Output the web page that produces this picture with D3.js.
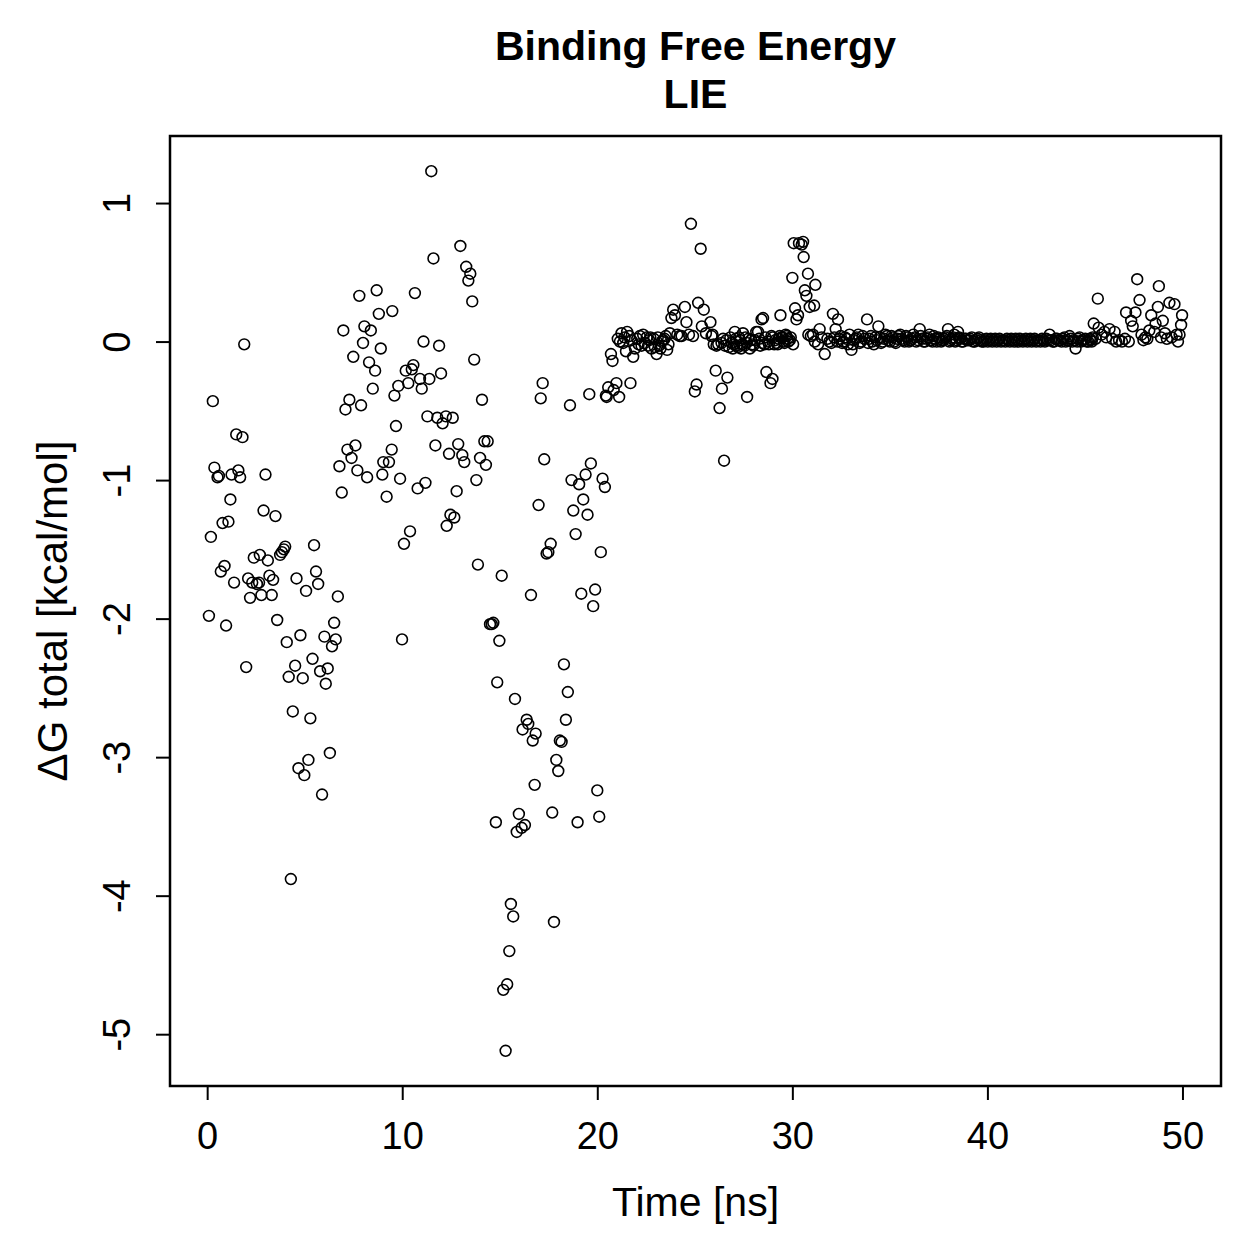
<!DOCTYPE html>
<html>
<head>
<meta charset="utf-8">
<script src="https://cdnjs.cloudflare.com/ajax/libs/d3/7.8.5/d3.min.js"></script>
<style>
  body { margin: 0; background: #fff; }
  svg text { font-family: "Liberation Sans", Arial, sans-serif; fill: #000; }
</style>
</head>
<body>
<div id="vis"></div>
<script>
// values: [time in ns, dG in kcal/mol]
// 0 - 21 ns, widely scattered
var earlyPoints = [
  [0.09,-1.98],[0.19,-1.41],[0.29,-0.43],[0.37,-0.91],[0.53,-0.98],[0.60,-0.97],[0.70,-1.66],[0.79,-1.31],
  [0.89,-1.62],[0.97,-2.05],[1.09,-1.30],[1.19,-1.14],[1.25,-0.96],[1.38,-1.74],[1.49,-0.67],[1.60,-0.93],
  [1.69,-0.98],[1.81,-0.69],[1.90,-0.02],[2.00,-2.35],[2.10,-1.71],[2.20,-1.85],[2.31,-1.74],[2.39,-1.56],
  [2.55,-1.75],[2.66,-1.74],[2.70,-1.54],[2.78,-1.83],[2.89,-1.22],[2.99,-0.96],[3.11,-1.58],[3.19,-1.69],
  [3.31,-1.83],[3.38,-1.72],[3.50,-1.26],[3.59,-2.01],[3.74,-1.54],[3.83,-1.52],[3.93,-1.50],[4.00,-1.48],
  [4.08,-2.17],[4.18,-2.42],[4.29,-3.88],[4.39,-2.67],[4.51,-2.34],[4.58,-1.71],[4.68,-3.08],[4.78,-2.12],
  [4.90,-2.43],[4.98,-3.13],[5.07,-1.80],[5.19,-3.02],[5.29,-2.72],[5.40,-2.29],[5.48,-1.47],[5.58,-1.66],
  [5.69,-1.75],[5.79,-2.38],[5.89,-3.27],[6.01,-2.13],[6.08,-2.47],[6.18,-2.36],[6.29,-2.97],[6.40,-2.20],
  [6.51,-2.03],[6.59,-2.15],[6.70,-1.84],[6.78,-0.90],[6.90,-1.09],[6.98,0.08],[7.09,-0.49],[7.19,-0.78],
  [7.29,-0.42],[7.40,-0.84],[7.49,-0.11],[7.60,-0.75],[7.70,-0.93],[7.80,0.33],[7.89,-0.46],[7.99,-0.01],
  [8.06,0.11],[8.20,-0.98],[8.30,-0.15],[8.39,0.08],[8.49,-0.34],[8.61,-0.21],[8.69,0.37],[8.80,0.20],
  [8.90,-0.05],[8.98,-0.96],[9.03,-0.87],[9.20,-1.12],[9.32,-0.87],[9.46,-0.78],[9.49,0.22],[9.60,-0.39],
  [9.68,-0.61],[9.80,-0.32],[9.89,-0.99],[9.99,-2.15],[10.09,-1.46],[10.18,-0.21],[10.31,-0.30],[10.40,-1.37],
  [10.49,-0.20],[10.57,-0.17],[10.65,0.35],[10.79,-1.06],[10.91,-0.27],[11.00,-0.34],[11.09,0.00],[11.19,-1.02],
  [11.29,-0.54],[11.39,-0.27],[11.49,1.23],[11.60,0.60],[11.70,-0.75],[11.80,-0.55],[11.89,-0.03],[11.99,-0.23],
  [12.07,-0.59],[12.24,-0.54],[12.28,-1.33],[12.40,-0.81],[12.47,-1.25],[12.59,-0.55],[12.67,-1.27],[12.79,-1.08],
  [12.87,-0.74],[12.98,0.69],[13.08,-0.82],[13.18,-0.87],[13.28,0.54],[13.39,0.44],[13.49,0.49],[13.59,0.29],
  [13.69,-0.13],[13.80,-1.00],[13.88,-1.61],[13.99,-0.84],[14.09,-0.42],[14.21,-0.72],[14.29,-0.89],[14.38,-0.72],
  [14.50,-2.04],[14.59,-2.04],[14.67,-2.03],[14.80,-3.47],[14.87,-2.46],[14.98,-2.16],[15.10,-1.69],[15.18,-4.68],
  [15.30,-5.12],[15.38,-4.64],[15.49,-4.40],[15.57,-4.06],[15.69,-4.15],[15.78,-2.58],[15.87,-3.54],[15.98,-3.41],
  [16.12,-3.51],[16.17,-2.80],[16.29,-3.49],[16.38,-2.73],[16.46,-2.76],[16.60,-1.83],[16.69,-2.88],[16.79,-3.20],
  [16.84,-2.83],[16.99,-1.18],[17.10,-0.41],[17.20,-0.30],[17.28,-0.85],[17.40,-1.53],[17.49,-1.52],[17.61,-1.46],
  [17.69,-3.40],[17.78,-4.19],[17.90,-3.02],[18.00,-3.10],[18.08,-2.88],[18.17,-2.89],[18.29,-2.33],[18.39,-2.73],
  [18.49,-2.53],[18.60,-0.46],[18.68,-1.00],[18.77,-1.22],[18.89,-1.39],[18.99,-3.47],[19.07,-1.03],[19.18,-1.82],
  [19.28,-1.14],[19.40,-0.96],[19.50,-1.25],[19.59,-0.38],[19.67,-0.88],[19.79,-1.91],[19.89,-1.79],[20.00,-3.24],
  [20.10,-3.43],[20.18,-1.52],[20.27,-0.99],[20.39,-1.05],[20.44,-0.39],[20.48,-0.40],[20.56,-0.33],[20.84,-0.35],
  [20.98,-0.30],[21.12,-0.40],[21.70,-0.30]
];

// 20.5 - 31.8 ns, settling band with the two bumps
var midPoints = [
  [20.70,-0.09],[20.78,-0.14],[21.05,0.02],[21.16,0.00],[21.24,0.06],[21.33,-0.01],[21.40,0.03],[21.47,-0.07],
  [21.53,0.07],[21.64,0.04],[21.75,0.01],[21.84,-0.11],[21.93,-0.05],[22.05,0.02],[22.12,-0.02],[22.18,0.04],
  [22.27,-0.03],[22.35,0.05],[22.44,-0.01],[22.53,0.03],[22.60,-0.03],[22.66,0.01],[22.72,0.03],[22.78,-0.05],
  [22.90,0.02],[22.95,-0.04],[23.04,-0.09],[23.10,0.03],[23.17,-0.03],[23.24,-0.05],[23.30,0.00],[23.38,0.01],
  [23.45,0.02],[23.51,0.04],[23.58,-0.06],[23.65,-0.02],[23.72,0.06],[23.80,0.17],[23.89,0.23],[23.98,0.19],
  [24.10,0.05],[24.23,0.04],[24.32,0.04],[24.49,0.25],[24.57,0.14],[24.70,0.05],[24.80,0.85],[24.91,0.04],
  [25.00,-0.36],[25.09,-0.31],[25.17,0.28],[25.30,0.67],[25.36,0.11],[25.46,0.23],[25.57,0.06],[25.80,0.14],
  [25.86,0.04],[25.91,0.05],[25.97,-0.02],[26.07,-0.21],[26.11,-0.03],[26.20,-0.02],[26.27,-0.48],[26.37,-0.01],
  [26.39,-0.34],[26.45,0.02],[26.50,-0.86],[26.55,-0.03],[26.62,0.01],[26.67,-0.26],[26.75,-0.04],[26.82,0.03],
  [26.88,-0.01],[26.95,-0.05],[27.00,-0.02],[27.05,0.07],[27.10,0.02],[27.15,-0.03],[27.20,-0.04],[27.27,0.03],
  [27.32,0.01],[27.37,-0.05],[27.42,-0.02],[27.47,0.06],[27.55,-0.03],[27.60,0.03],[27.65,-0.01],[27.68,-0.40],
  [27.75,0.02],[27.82,-0.05],[27.88,0.01],[27.95,-0.02],[28.00,-0.03],[28.07,0.01],[28.15,0.07],[28.24,0.07],
  [28.30,0.02],[28.35,-0.03],[28.42,0.16],[28.45,-0.01],[28.50,0.17],[28.58,-0.02],[28.62,0.03],[28.67,-0.22],
  [28.75,0.00],[28.80,-0.02],[28.88,-0.30],[28.93,0.04],[28.98,-0.27],[29.00,0.03],[29.07,-0.02],[29.13,0.01],
  [29.19,-0.01],[29.25,-0.02],[29.30,0.02],[29.35,0.04],[29.39,0.19],[29.44,0.03],[29.50,0.03],[29.55,0.00],
  [29.60,-0.01],[29.66,0.05],[29.70,0.04],[29.75,0.02],[29.80,0.00],[29.87,0.01],[29.92,0.03],[30.00,0.46],
  [30.04,-0.02],[30.07,0.71],[30.14,0.24],[30.21,0.16],[30.29,0.19],[30.34,0.71],[30.48,0.70],[30.55,0.72],
  [30.58,0.61],[30.64,0.37],[30.72,0.33],[30.80,0.49],[30.82,0.05],[30.89,0.25],[30.95,0.04],[31.06,0.05],
  [31.12,0.26],[31.15,0.00],[31.18,0.41],[31.32,-0.02],[31.40,0.09],[31.50,0.03],[31.66,-0.09]
];

// 31.8 - 50 ns, flat band and the late wobble
var latePoints = [
  [31.80,0.02],[31.90,0.00],[32.00,-0.01],[32.08,0.20],[32.15,0.03],[32.22,0.09],[32.30,0.00],[32.34,0.16],
  [32.40,0.02],[32.48,0.04],[32.55,-0.01],[32.62,0.00],[32.70,0.03],[32.78,0.02],[32.85,-0.02],[32.93,0.05],
  [33.03,-0.06],[33.10,-0.02],[33.15,0.01],[33.23,0.02],[33.30,0.03],[33.38,0.05],[33.45,-0.01],[33.52,0.00],
  [33.60,0.04],[33.70,0.02],[33.83,0.16],[33.88,-0.01],[33.95,0.02],[34.03,0.04],[34.10,0.00],[34.18,-0.02],
  [34.25,0.03],[34.33,0.01],[34.41,0.11],[34.48,0.03],[34.55,-0.01],[34.63,0.00],[34.70,0.02],[34.78,0.05],
  [34.85,0.04],[34.93,0.01],[35.00,0.00],[35.08,0.04],[35.15,0.03],[35.23,0.00],[35.30,-0.01],[35.38,0.02],
  [35.45,0.04],[35.53,0.05],[35.60,0.02],[35.68,0.01],[35.75,0.00],[35.83,0.04],[35.90,0.03],[35.98,0.00],
  [36.05,0.01],[36.13,0.02],[36.20,0.05],[36.28,0.03],[36.35,0.00],[36.43,0.01],[36.53,0.09],[36.58,0.04],
  [36.65,0.02],[36.73,0.00],[36.80,0.00],[36.88,0.02],[36.95,0.03],[37.03,0.05],[37.10,0.01],[37.18,0.00],
  [37.25,0.04],[37.33,0.02],[37.40,0.00],[37.48,0.03],[37.55,0.02],[37.63,0.00],[37.70,0.01],[37.78,0.02],
  [37.85,0.03],[37.92,0.04],[37.98,0.09],[38.05,0.00],[38.10,0.01],[38.18,0.02],[38.25,0.03],[38.30,0.05],
  [38.35,0.00],[38.42,0.01],[38.49,0.07],[38.55,0.03],[38.60,0.02],[38.68,0.00],[38.75,0.00],[38.82,0.02],
  [38.90,0.02],[38.97,0.01],[39.05,0.01],[39.12,0.02],[39.20,0.03],[39.27,0.00],[39.35,0.00],[39.42,0.01],
  [39.50,0.02],[39.57,0.03],[39.65,0.01],[39.72,0.00],[39.80,0.00],[39.87,0.01],[39.95,0.02],[40.02,0.00],
  [40.10,0.01],[40.17,0.02],[40.25,0.00],[40.32,0.01],[40.40,0.02],[40.47,0.00],[40.55,0.01],[40.62,0.02],
  [40.70,0.00],[40.77,0.01],[40.85,0.01],[40.92,0.00],[41.00,0.02],[41.07,0.01],[41.15,0.00],[41.22,0.02],
  [41.30,0.01],[41.37,0.00],[41.45,0.02],[41.52,0.01],[41.60,0.00],[41.67,0.02],[41.75,0.01],[41.82,0.00],
  [41.90,0.01],[41.97,0.02],[42.05,0.00],[42.12,0.01],[42.20,0.02],[42.27,0.00],[42.35,0.01],[42.42,0.02],
  [42.50,0.00],[42.57,0.01],[42.65,0.01],[42.72,0.00],[42.80,0.02],[42.87,0.01],[42.95,0.00],[43.02,0.02],
  [43.10,0.01],[43.19,0.05],[43.27,0.01],[43.35,0.00],[43.42,0.00],[43.50,0.02],[43.57,0.02],[43.65,0.01],
  [43.72,0.01],[43.80,0.00],[43.87,0.02],[43.95,0.03],[44.02,0.00],[44.10,0.01],[44.21,0.04],[44.28,0.02],
  [44.35,0.00],[44.43,0.01],[44.52,-0.05],[44.60,0.00],[44.65,0.02],[44.72,0.03],[44.80,0.00],[44.87,0.01],
  [44.95,0.01],[45.02,0.02],[45.10,0.00],[45.17,0.00],[45.25,0.02],[45.30,0.01],[45.35,0.00],[45.40,0.03],
  [45.45,0.13],[45.55,0.02],[45.66,0.31],[45.70,0.10],[45.85,0.05],[46.00,0.07],[46.09,0.03],[46.26,0.09],
  [46.40,0.02],[46.52,0.07],[46.60,0.00],[46.75,0.01],[46.90,0.00],[47.05,0.02],[47.11,0.21],[47.25,0.00],
  [47.37,0.15],[47.45,0.11],[47.59,0.21],[47.68,0.45],[47.80,0.30],[47.90,0.05],[48.00,0.01],[48.10,0.03],
  [48.20,0.02],[48.30,0.08],[48.40,0.19],[48.56,0.07],[48.62,0.13],[48.74,0.25],[48.79,0.40],[48.90,0.03],
  [48.99,0.15],[49.10,0.06],[49.20,0.02],[49.33,0.28],[49.45,0.03],[49.59,0.27],[49.70,0.05],[49.77,0.00],
  [49.85,0.05],[49.93,0.12],[49.98,0.19]
];

var xTicks = [0, 10, 20, 30, 40, 50];
var yTicks = [1, 0, -1, -2, -3, -4, -5];
var titleLines = ["Binding Free Energy", "LIE"];
var xLabel = "Time [ns]";
var yLabel = "\u0394G total [kcal/mol]";

var data = earlyPoints.concat(midPoints, latePoints);

var width = 1259, height = 1259;
var box = {left: 170, right: 1221, top: 136, bottom: 1086};

var svg = d3.select("#vis")
    .append("svg")
    .attr("width", width)
    .attr("height", height);

// R-like 4% padding of the data range
var xExt = d3.extent(data, function(d) { return d[0]; }),
    yExt = d3.extent(data, function(d) { return d[1]; });
var xPad = (xExt[1] - xExt[0]) * 0.04,
    yPad = (yExt[1] - yExt[0]) * 0.04;

var x = d3.scaleLinear()
    .domain([xExt[0] - xPad, xExt[1] + xPad])
    .range([box.left, box.right]);

var y = d3.scaleLinear()
    .domain([yExt[0] - yPad, yExt[1] + yPad])
    .range([box.bottom, box.top]);

////////// points //////////
svg.append("g")
    .attr("class", "points")
  .selectAll("circle")
    .data(data)
    .enter()
    .append("circle")
    .attr("cx", function(d) { return x(d[0]); })
    .attr("cy", function(d) { return y(d[1]); })
    .attr("r", 5.4)
    .attr("fill", "none")
    .attr("stroke", "#000")
    .attr("stroke-width", 1.6);

////////// axes //////////
// plain hyphen for negatives, as in the original
var plainNum = function(d) { return String(d); };

var xAxis = svg.append("g")
    .attr("transform", "translate(0," + box.bottom + ")")
    .call(d3.axisBottom(x).tickValues(xTicks).tickSize(14).tickFormat(plainNum));

var yAxis = svg.append("g")
    .attr("transform", "translate(" + box.left + ",0)")
    .call(d3.axisLeft(y).tickValues(yTicks).tickSize(14).tickFormat(plainNum));

[xAxis, yAxis].forEach(function(g) {
  g.select(".domain").remove();
  g.selectAll(".tick line").attr("stroke", "#000").attr("stroke-width", 2);
  g.selectAll(".tick text")
    .style("font-size", "38px")
    .attr("fill", "#000");
});

// x axis base line spans the ticks only
svg.append("line")
    .attr("x1", x(xTicks[0])).attr("x2", x(xTicks[xTicks.length - 1]))
    .attr("y1", box.bottom).attr("y2", box.bottom)
    .attr("stroke", "#000").attr("stroke-width", 2);

xAxis.selectAll(".tick text")
    .attr("y", 63)
    .attr("dy", null);

// y tick labels are turned like R's default
yAxis.selectAll(".tick text")
    .attr("x", null).attr("dy", null)
    .attr("text-anchor", "middle")
    .attr("transform", "translate(-40,0) rotate(-90)");

// plot frame
svg.append("rect")
    .attr("x", box.left)
    .attr("y", box.top)
    .attr("width", box.right - box.left)
    .attr("height", box.bottom - box.top)
    .attr("fill", "none")
    .attr("stroke", "#000")
    .attr("stroke-width", 2.5);

////////// labels //////////
svg.append("text")
    .attr("x", (box.left + box.right) / 2)
    .attr("y", 1216)
    .attr("text-anchor", "middle")
    .style("font-size", "41px")
    .text(xLabel);

svg.append("text")
    .attr("transform", "translate(67," + ((box.top + box.bottom) / 2) + ") rotate(-90)")
    .attr("text-anchor", "middle")
    .style("font-size", "42px")
    .text(yLabel);

svg.selectAll(".title")
    .data(titleLines)
    .enter()
    .append("text")
    .attr("class", "title")
    .attr("x", (box.left + box.right) / 2)
    .attr("y", function(d, i) { return 60 + i * 48; })
    .attr("text-anchor", "middle")
    .style("font-size", "41px")
    .style("font-weight", "bold")
    .text(function(d) { return d; });
</script>
</body>
</html>
